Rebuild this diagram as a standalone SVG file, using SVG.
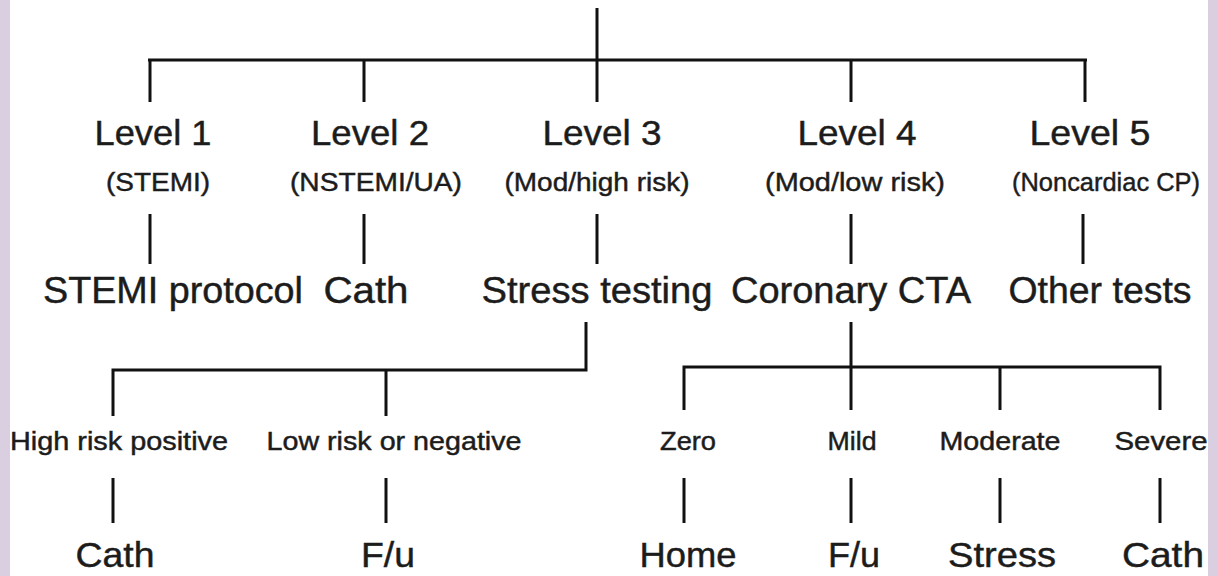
<svg xmlns="http://www.w3.org/2000/svg" width="1218" height="576" viewBox="0 0 1218 576">
<style>
text{font-family:"Liberation Sans",Arial,sans-serif;fill:#1c1c1c;stroke:#1c1c1c;stroke-width:0.45;text-anchor:middle}
.l1{font-size:35px}
.l2{font-size:26px}
.l3{font-size:36px}
.l4{font-size:25px}
.l5{font-size:35px}
.c{stroke:#111;stroke-width:3;fill:none}
</style>
<rect width="1218" height="576" fill="#ffffff"/>
<rect x="0" y="0" width="10" height="576" fill="#d9cfe0"/>
<rect x="1208" y="0" width="10" height="576" fill="#d9cfe0"/>
<g id="connectors" class="c">
<path d="M597 8V60M148 60H1087M150 60V102M364 60V102M597 60V102M851 60V102M1085 60V102"/>
<path d="M150 214V264M364 214V264M597 214V264M851 214V264M1083 214V264"/>
<path d="M586 322V370H113V416M386 370V416"/>
<path d="M851 322V410M684 410V367H1160V410M1000 367V410"/>
<path d="M113 478V523M386 478V523M684 478V523M851 478V523M1000 478V523M1160 478V523"/>
</g>
<g id="level1"><text class="l1" x="153" y="145" textLength="117" lengthAdjust="spacingAndGlyphs">Level 1</text><text class="l2" x="158" y="191" textLength="104" lengthAdjust="spacingAndGlyphs">(STEMI)</text></g>
<g id="level2"><text class="l1" x="370" y="145" textLength="118" lengthAdjust="spacingAndGlyphs">Level 2</text><text class="l2" x="376" y="191" textLength="172" lengthAdjust="spacingAndGlyphs">(NSTEMI/UA)</text></g>
<g id="level3"><text class="l1" x="602" y="145" textLength="119" lengthAdjust="spacingAndGlyphs">Level 3</text><text class="l2" x="597" y="191" textLength="185" lengthAdjust="spacingAndGlyphs">(Mod/high risk)</text></g>
<g id="level4"><text class="l1" x="857" y="145" textLength="119" lengthAdjust="spacingAndGlyphs">Level 4</text><text class="l2" x="855" y="191" textLength="180" lengthAdjust="spacingAndGlyphs">(Mod/low risk)</text></g>
<g id="level5"><text class="l1" x="1090" y="145" textLength="121" lengthAdjust="spacingAndGlyphs">Level 5</text><text class="l2" x="1106" y="191" textLength="188" lengthAdjust="spacingAndGlyphs">(Noncardiac CP)</text></g>
<g id="stemi-protocol"><text class="l3" x="173" y="303" textLength="260" lengthAdjust="spacingAndGlyphs">STEMI protocol</text></g>
<g id="cath-l2"><text class="l3" x="366" y="303" textLength="85" lengthAdjust="spacingAndGlyphs">Cath</text></g>
<g id="stress-testing"><text class="l3" x="597" y="303" textLength="231" lengthAdjust="spacingAndGlyphs">Stress testing</text></g>
<g id="coronary-cta"><text class="l3" x="851" y="303" textLength="240" lengthAdjust="spacingAndGlyphs">Coronary CTA</text></g>
<g id="other-tests"><text class="l3" x="1100" y="303" textLength="183" lengthAdjust="spacingAndGlyphs">Other tests</text></g>
<g id="high-risk"><text class="l4" x="119" y="450" textLength="218" lengthAdjust="spacingAndGlyphs">High risk positive</text></g>
<g id="low-risk"><text class="l4" x="394" y="450" textLength="255" lengthAdjust="spacingAndGlyphs">Low risk or negative</text></g>
<g id="zero"><text class="l4" x="688" y="450" textLength="56" lengthAdjust="spacingAndGlyphs">Zero</text></g>
<g id="mild"><text class="l4" x="852" y="450" textLength="49" lengthAdjust="spacingAndGlyphs">Mild</text></g>
<g id="moderate"><text class="l4" x="1000" y="450" textLength="121" lengthAdjust="spacingAndGlyphs">Moderate</text></g>
<g id="severe"><text class="l4" x="1161" y="450" textLength="93" lengthAdjust="spacingAndGlyphs">Severe</text></g>
<g id="cath-hr"><text class="l5" x="115" y="567" textLength="79" lengthAdjust="spacingAndGlyphs">Cath</text></g>
<g id="fu-lr"><text class="l5" x="388" y="567" textLength="54" lengthAdjust="spacingAndGlyphs">F/u</text></g>
<g id="home"><text class="l5" x="688" y="567" textLength="97" lengthAdjust="spacingAndGlyphs">Home</text></g>
<g id="fu-mild"><text class="l5" x="854" y="567" textLength="52" lengthAdjust="spacingAndGlyphs">F/u</text></g>
<g id="stress"><text class="l5" x="1002" y="567" textLength="108" lengthAdjust="spacingAndGlyphs">Stress</text></g>
<g id="cath-severe"><text class="l5" x="1163" y="567" textLength="82" lengthAdjust="spacingAndGlyphs">Cath</text></g>
</svg>
